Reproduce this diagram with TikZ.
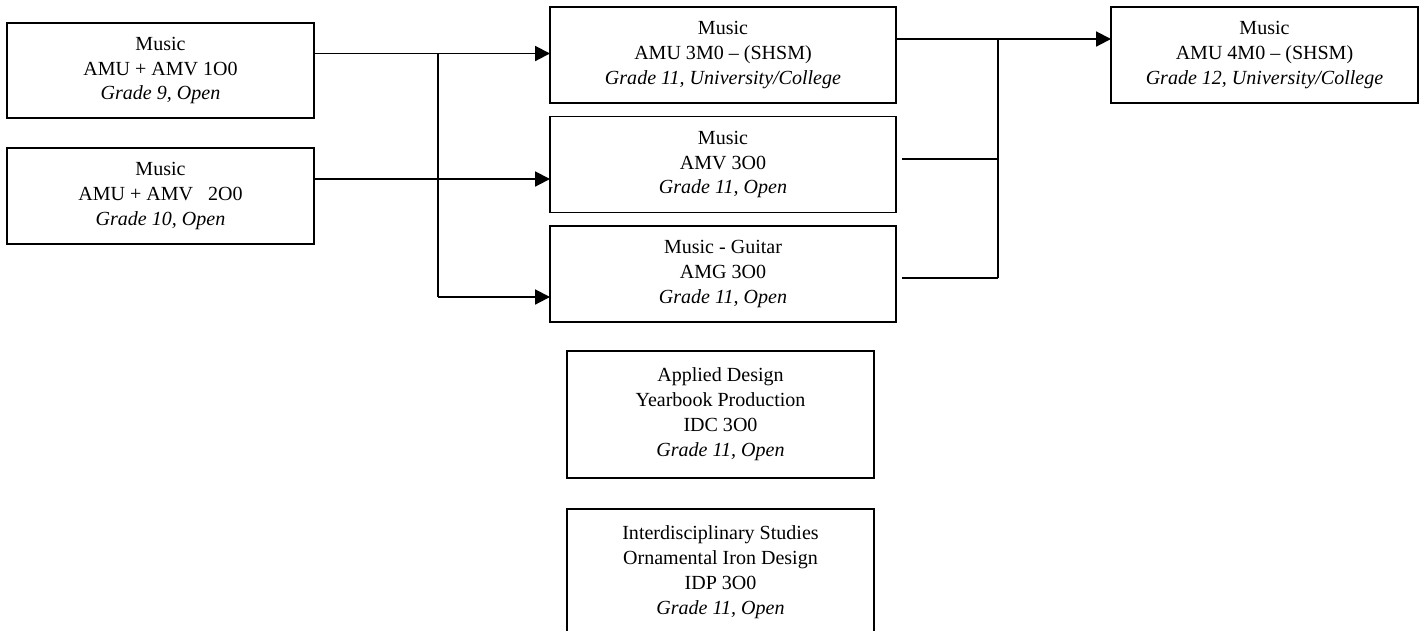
\documentclass[tikz,border=0pt]{standalone}
\usepackage{fontspec}
\setmainfont{Liberation Serif}
\usetikzlibrary{arrows.meta}
\begin{document}
\begin{tikzpicture}[x=0.02cm,y=-0.02cm,
  course/.style={draw=black,line width=1.1pt,rectangle,inner sep=0pt,outer sep=0pt,
    align=center,font=\fontsize{11.4}{14.2}\selectfont},
  wA/.style={minimum width=6.14cm,minimum height=1.91cm},
  wC/.style={minimum width=6.92cm,minimum height=1.92cm},
  wF/.style={minimum width=6.14cm,minimum height=1.92cm},
  wG/.style={minimum width=6.14cm,minimum height=2.54cm},
  link/.style={line width=1.1pt},
  arr/.style={line width=1.1pt,-{Triangle[length=8.5pt,width=8.5pt]}}]
\useasboundingbox (0,0) rectangle (1420,630);
\clip (0,0) rectangle (1420,630);
\node[course,wA] (A) at (160.5,70.5) {Music\\AMU + AMV 1O0\\\textit{Grade 9, Open}};
\node[course,wA] (B) at (160.5,196) {Music\\AMU + AMV\ \ \ 2O0\\\textit{Grade 10, Open}};
\node[course,wC] (C) at (723,55) {Music\\AMU 3M0 -- (SHSM)\\\textit{Grade 11, University/College}};
\node[course,wC] (D) at (723,164.5) {Music\\AMV 3O0\\\textit{Grade 11, Open}};
\node[course,wC] (E) at (723,274) {Music - Guitar\\AMG 3O0\\\textit{Grade 11, Open}};
\node[course,wF] (F) at (1264.5,55) {Music\\AMU 4M0 -- (SHSM)\\\textit{Grade 12, University/College}};
\node[course,wG] (G) at (720.5,414.5) {Applied Design\\Yearbook Production\\IDC 3O0\\\textit{Grade 11, Open}};
\node[course,wG] (H) at (720.5,572.5) {Interdisciplinary Studies\\Ornamental Iron Design\\IDP 3O0\\\textit{Grade 11, Open}};
% left junction
\coordinate (ya) at (0,53.5);
\coordinate (yb) at (0,179);
\coordinate (ye) at (0,297);
\coordinate (j1) at (438,53.5);
\coordinate (j2) at (438,297);
\draw[arr] (A.east |- ya) -- (C.west |- ya);
\draw[arr] (B.east |- yb) -- (D.west |- yb);
\draw[link] (j1) -- (j2);
\draw[arr] (j2) -- (E.west |- ye);
% right junction
\coordinate (yc) at (0,39);
\coordinate (k1) at (998,39);
\coordinate (k2) at (998,278);
\coordinate (k3) at (998,159);
\coordinate (ds) at (902,159);
\coordinate (es) at (902,278);
\draw[arr] (C.east |- yc) -- (F.west |- yc);
\draw[link] (k1) -- (k2);
\draw[link] (ds) -- (k3);
\draw[link] (es) -- (k2);
\end{tikzpicture}
\end{document}
